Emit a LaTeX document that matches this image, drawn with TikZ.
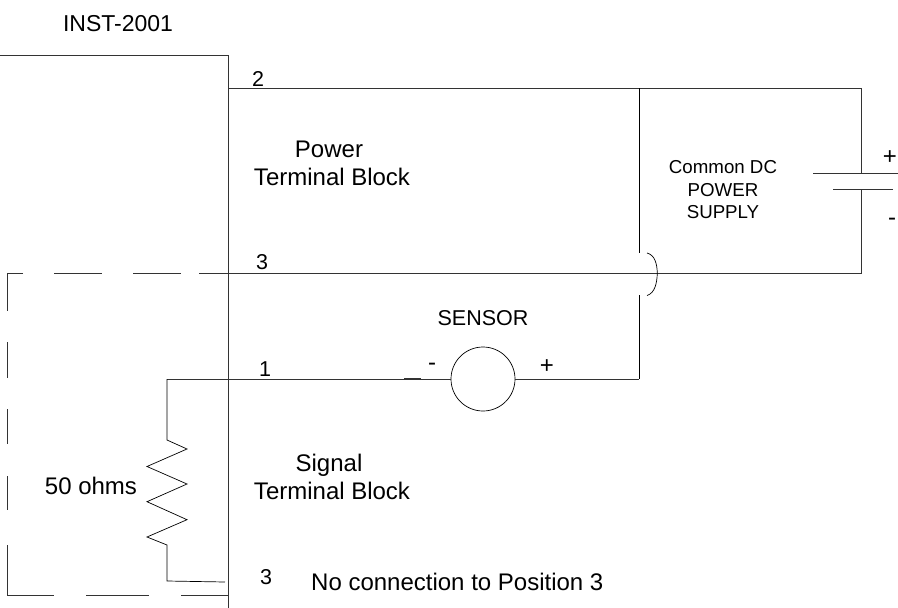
\documentclass[tikz,border=0pt]{standalone}
\usepackage{fontspec}
\setmainfont{Liberation Sans}
\usetikzlibrary{positioning}

\tikzset{
  wire/.style={color=black!80,line width=0.9pt},
  thin wire/.style={color=black,line width=0.7pt},
  lbl/.style={inner sep=0pt,font=\fontsize{24}{28}\selectfont,align=center},
  pin lbl/.style={inner sep=0pt,font=\fontsize{21.5}{25}\selectfont},
  small lbl/.style={inner sep=0pt,font=\fontsize{18.7}{22.5}\selectfont,align=center}
}

\begin{document}
\begin{tikzpicture}[x=1pt,y=-1pt]
\useasboundingbox (0,0) rectangle (898,608);

% input points of the block and the wires
\coordinate (blocktop) at (228,55);
\coordinate (blockleft) at (0,55);
\coordinate (blockbottom) at (228,608);
\coordinate (pin2) at (228,88);
\coordinate (pin3) at (199,273);
\coordinate (pin1) at (228,379);
\coordinate (tee) at (639,88);
\coordinate (corner) at (861,88);
\coordinate (cornerlow) at (861,273);
\coordinate (hoptop) at (639,253);
\coordinate (hopbottom) at (639,295);
\coordinate (sensorcorner) at (639,379);
\coordinate (plustop) at (861,173);
\coordinate (minusbottom) at (861,190);
\coordinate (resleft) at (167,379);
\coordinate (restop) at (167,440);
\coordinate (resbottom) at (167,545);
\coordinate (resfoot) at (167,581);
\coordinate (resend) at (225,582);

% Instrument outline
\draw[wire] (blockleft) -- (blocktop) -- (blockbottom);

% Power wires
\draw[wire] (pin2) -- (corner) -- (plustop);
\draw[wire] (minusbottom) -- (cornerlow) -- (pin3);
\draw[thin wire] (tee) -- (hoptop);
\draw[thin wire] (hopbottom) -- (sensorcorner);

% Hop over wire 3
\draw[thin wire] (647,253) .. controls (655,255) and (657,264) .. (657.3,273) .. controls (657,283) and (655,293) .. (647,295.5);

% Battery plates
\draw[wire] (813,173) -- (898,173);
\draw[wire] (833,189.5) -- (893,189.5);

% Sensor
\node[draw,circle,thin wire,minimum size=64pt,inner sep=0pt] (sensor) at (483,379) {};
\draw[wire] (sensorcorner) -- (sensor);
\draw[wire] (resleft) -- (sensor);
\draw[wire,line width=1.3pt] (404,379) -- (421,379);

% Resistor
\draw[thin wire] (resleft) -- (restop) -- (187,449) -- (147,466.5) -- (187,484) -- (147,501.7) -- (187,519.7) -- (147,537) -- (resbottom) -- (resfoot) -- (resend);

% Dashed enclosure, top and left and bottom pieces
\foreach \a/\b in {54/102,133/181} \draw[wire] (\a,273) -- (\b,273);
\draw[wire] (23,273) -- (7,273) -- (7,311);
\foreach \a/\b in {342/378,409/444,476/510} \draw[wire] (7,\a) -- (7,\b);
\draw[wire] (7,545) -- (7,595) -- (54,595);
\foreach \a/\b in {86/149,181/228} \draw[wire] (\a,595) -- (\b,595);

% Labels
\node[lbl,font=\fontsize{23}{28}\selectfont] (inst) at (118,24) {INST-2001};
\node[pin lbl] (pintwo) at (258,79) {2};
\node[pin lbl] (pinthree) at (262,262) {3};
\node[pin lbl] (pinone) at (265,369) {1};
\node[pin lbl] (pinthreeb) at (266,577) {3};
\node[lbl] (power) at (332,163) {Power\hspace*{6pt}\\Terminal Block};
\node[lbl] (signal) at (332,477) {Signal\hspace*{6pt}\\Terminal Block};
\node[small lbl] (supply) at (723,190) {Common DC\\POWER\\SUPPLY};
\node[lbl] (plus) at (890,158) {+};
\node[lbl] (minus) at (892,222) {-};
\node[pin lbl] (sensorname) at (483,318) {SENSOR};
\node[lbl] (sensorminus) at (432,367) {-};
\node[lbl] (sensorplus) at (547,367) {+};
\node[lbl] (ohms) at (91,486) {50 ohms};
\node[lbl,anchor=west] (noconn) at (311,582) {No connection to Position 3};

\end{tikzpicture}
\end{document}
